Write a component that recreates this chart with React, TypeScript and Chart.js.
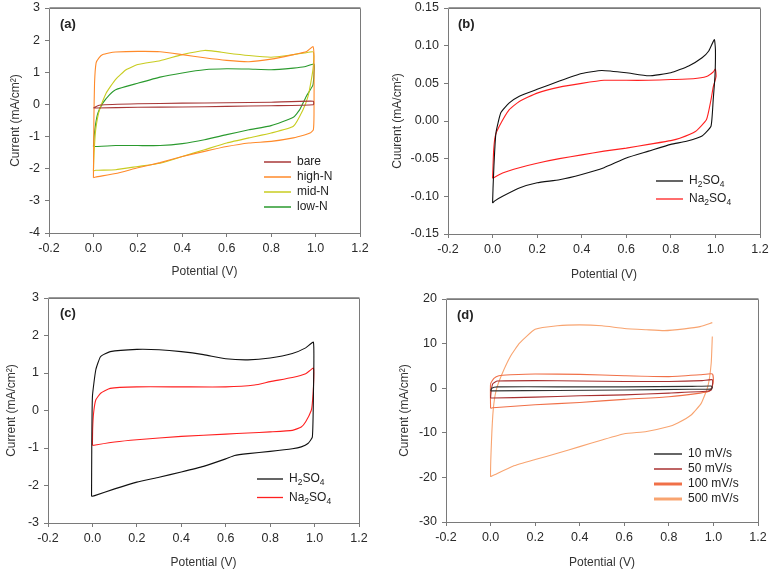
import React, { useEffect, useRef } from 'react';
import { Chart, registerables } from 'chart.js';
Chart.register(...registerables);

// ---------- Panel (a) ----------
const aBareE = [0, 0.03, 0.2, 0.4, 0.6, 0.8, 0.99, 0.99, 0.8, 0.6, 0.4, 0.2, 0.01, 0];
const aBareI = [-0.11, -0.02, 0.02, 0.04, 0.05, 0.07, 0.1, -0.01, -0.04, -0.06, -0.08, -0.09, -0.11, -0.11];
const aHighE = [0, 0.002, 0.005, 0.012, 0.025, 0.042, 0.07, 0.1, 0.2, 0.3, 0.4, 0.5, 0.6, 0.7, 0.8, 0.9, 0.96, 0.988, 0.993, 0.993, 0.99, 0.975, 0.95, 0.9, 0.8, 0.7, 0.6, 0.5, 0.4, 0.3, 0.2, 0.1, 0.01, 0];
const aHighI = [-2.28, -0.5, 0.66, 1.29, 1.45, 1.55, 1.6, 1.63, 1.65, 1.64, 1.55, 1.45, 1.37, 1.33, 1.41, 1.55, 1.65, 1.8, 1.5, -0.3, -0.79, -0.89, -0.95, -1.04, -1.15, -1.2, -1.31, -1.46, -1.62, -1.81, -1.97, -2.15, -2.26, -2.28];
const aMidE = [0, 0.003, 0.01, 0.027, 0.057, 0.1, 0.147, 0.2, 0.3, 0.4, 0.5, 0.55, 0.6, 0.7, 0.8, 0.9, 0.95, 0.99, 0.99, 0.981, 0.966, 0.943, 0.9, 0.8, 0.7, 0.6, 0.5, 0.4, 0.3, 0.2, 0.1, 0.01, 0];
const aMidI = [-2.07, -1.5, -0.8, -0.17, 0.35, 0.78, 1.08, 1.24, 1.36, 1.55, 1.68, 1.65, 1.6, 1.52, 1.47, 1.55, 1.6, 1.63, 1.2, 0.77, 0.25, -0.17, -0.68, -0.89, -1.04, -1.2, -1.41, -1.62, -1.83, -1.93, -2.03, -2.05, -2.07];
const aLowE = [0, 0.003, 0.01, 0.02, 0.042, 0.072, 0.1, 0.2, 0.3, 0.4, 0.5, 0.6, 0.7, 0.8, 0.9, 0.95, 0.993, 0.993, 0.988, 0.958, 0.928, 0.9, 0.8, 0.7, 0.6, 0.5, 0.4, 0.3, 0.2, 0.1, 0.01, 0];
const aLowI = [-1.31, -1.0, -0.6, -0.27, 0.04, 0.3, 0.46, 0.66, 0.85, 0.98, 1.08, 1.11, 1.1, 1.08, 1.13, 1.17, 1.26, 0.98, 0.6, 0.25, -0.17, -0.4, -0.66, -0.79, -0.94, -1.1, -1.22, -1.28, -1.28, -1.28, -1.31, -1.31];

// ---------- Panel (b) ----------
const bH2E = [0, 0.002, 0.006, 0.015, 0.037, 0.075, 0.12, 0.2, 0.3, 0.4, 0.49, 0.6, 0.7, 0.8, 0.88, 0.94, 0.97, 0.995, 1.0, 0.998, 0.99, 0.98, 0.94, 0.87, 0.8, 0.7, 0.6, 0.5, 0.4, 0.3, 0.2, 0.12, 0.045, 0.01, 0];
const bH2I = [-0.109, -0.09, -0.06, -0.016, 0.011, 0.024, 0.033, 0.042, 0.053, 0.063, 0.067, 0.064, 0.06, 0.064, 0.073, 0.084, 0.093, 0.108, 0.095, 0.06, 0.028, -0.007, -0.02, -0.027, -0.031, -0.04, -0.049, -0.062, -0.071, -0.078, -0.082, -0.089, -0.1, -0.106, -0.109];
const bNaE = [0, 0.002, 0.005, 0.012, 0.03, 0.075, 0.12, 0.2, 0.3, 0.4, 0.5, 0.6, 0.7, 0.8, 0.9, 0.96, 0.99, 1.0, 1.003, 0.99, 0.98, 0.96, 0.91, 0.84, 0.8, 0.7, 0.6, 0.5, 0.4, 0.3, 0.2, 0.12, 0.045, 0];
const bNaI = [-0.076, -0.06, -0.038, -0.02, -0.007, 0.015, 0.026, 0.037, 0.045, 0.05, 0.054, 0.054, 0.054, 0.055, 0.056, 0.059, 0.065, 0.069, 0.059, 0.045, 0.028, 0.002, -0.014, -0.023, -0.026, -0.031, -0.036, -0.04, -0.045, -0.05, -0.056, -0.062, -0.069, -0.076];

// ---------- Panel (c) ----------
const cH2E = [-0.004, -0.003, 0.0, 0.015, 0.037, 0.08, 0.2, 0.3, 0.4, 0.5, 0.6, 0.7, 0.8, 0.9, 0.96, 0.995, 0.995, 0.99, 0.97, 0.94, 0.9, 0.8, 0.7, 0.64, 0.6, 0.5, 0.4, 0.3, 0.2, 0.1, 0.01, -0.004];
const cH2I = [-2.29, -1.0, 0.37, 1.08, 1.44, 1.57, 1.63, 1.62, 1.57, 1.49, 1.38, 1.35, 1.4, 1.52, 1.67, 1.82, 0.5, -0.71, -0.88, -0.97, -1.02, -1.09, -1.15, -1.2, -1.29, -1.49, -1.64, -1.78, -1.91, -2.09, -2.27, -2.29];
const cNaE = [0, 0.001, 0.005, 0.015, 0.037, 0.08, 0.2, 0.4, 0.6, 0.73, 0.8, 0.9, 0.96, 0.995, 0.995, 0.99, 0.985, 0.96, 0.94, 0.9, 0.8, 0.7, 0.6, 0.4, 0.2, 0.1, 0];
const cNaI = [-0.93, -0.5, -0.08, 0.28, 0.46, 0.59, 0.63, 0.63, 0.63, 0.68, 0.77, 0.88, 0.98, 1.13, 0.63, 0.2, 0.0, -0.3, -0.44, -0.53, -0.57, -0.6, -0.63, -0.69, -0.78, -0.84, -0.93];

// ---------- Panel (d) ----------
const d10E = [0, 0.005, 0.03, 0.3, 0.6, 0.9, 0.99, 0.995, 0.99, 0.9, 0.6, 0.3, 0.01, 0];
const d10I = [-0.6, 0.0, 0.3, 0.3, 0.3, 0.4, 0.5, 0.2, -0.2, -0.25, -0.4, -0.5, -0.6, -0.6];
const d50E = [0, 0.003, 0.01, 0.03, 0.2, 0.4, 0.6, 0.8, 0.95, 0.995, 0.995, 0.99, 0.97, 0.8, 0.6, 0.4, 0.2, 0.01, 0];
const d50I = [-2.2, -0.5, 1.0, 1.6, 1.7, 1.6, 1.5, 1.5, 1.7, 1.9, 0.4, -0.4, -0.7, -1.1, -1.5, -1.7, -2.0, -2.2, -2.2];
const d100E = [0, 0.0, 0.015, 0.037, 0.09, 0.2, 0.4, 0.6, 0.8, 0.94, 0.995, 1.0, 0.995, 0.98, 0.94, 0.8, 0.6, 0.4, 0.2, 0.01, 0];
const d100I = [-4.5, 1.0, 2.2, 2.8, 3.0, 3.2, 3.1, 2.8, 2.6, 3.0, 3.2, 1.9, 0.4, -0.7, -1.1, -1.9, -2.5, -3.2, -3.7, -4.4, -4.5];
const d500E = [0.995, 0.99, 0.975, 0.945, 0.9, 0.84, 0.8, 0.7, 0.6, 0.5, 0.4, 0.3, 0.2, 0.1, 0.01, 0, 0.004, 0.012, 0.025, 0.05, 0.09, 0.13, 0.2, 0.3, 0.4, 0.5, 0.6, 0.7, 0.78, 0.87, 0.94, 0.995];
const d500I = [11.6, 5.6, 0.4, -3.4, -6.0, -7.8, -8.6, -9.7, -10.2, -11.6, -13.1, -14.6, -16.0, -17.5, -19.6, -19.8, -12.0, -4.8, -0.5, 3.0, 7.2, 10.1, 13.2, 14.0, 14.2, 14.0, 13.4, 13.1, 12.9, 13.3, 13.8, 14.7];

// ---------- Labels ----------
const X_TITLE = 'Potential (V)';
const Y_TITLE_A = 'Current (mA/cm²)';
const Y_TITLE_B = 'Cuurent (mA/cm²)';
const LABELS_A = ['bare', 'high-N', 'mid-N', 'low-N'];
const LABELS_BC = ['H₂SO₄', 'Na₂SO₄'];
const LABELS_D = ['10 mV/s', '50 mV/s', '100 mV/s', '500 mV/s'];

const FONT = '"Liberation Sans", Arial, Helvetica, sans-serif';
const SUB: Record<string, string> = { '₀': '0', '₁': '1', '₂': '2', '₃': '3', '₄': '4', '₅': '5', '₆': '6', '₇': '7', '₈': '8', '₉': '9' };

function drawRich(ctx: CanvasRenderingContext2D, text: string, x: number, y: number) {
  let cx = x;
  let run = '';
  const flush = () => {
    if (!run) return;
    ctx.font = `12px ${FONT}`;
    ctx.fillText(run, cx, y);
    cx += ctx.measureText(run).width;
    run = '';
  };
  for (const ch of text) {
    if (SUB[ch]) {
      flush();
      ctx.font = `8.5px ${FONT}`;
      ctx.fillText(SUB[ch], cx, y + 4);
      cx += ctx.measureText(SUB[ch]).width;
    } else run += ch;
  }
  flush();
}

const framePlugin = {
  id: 'frame',
  afterDatasetsDraw(chart: any) {
    const { ctx, chartArea } = chart;
    const l = Math.round(chartArea.left) + 0.5;
    const t = Math.round(chartArea.top) + 0.5;
    const r = Math.round(chartArea.right) + 0.5;
    const b = Math.round(chartArea.bottom) + 0.5;
    ctx.save();
    ctx.strokeStyle = '#7a7a7a';
    ctx.lineWidth = 1;
    ctx.beginPath();
    ctx.rect(l, t, r - l, b - t);
    ctx.stroke();
    ctx.strokeStyle = '#9a9a9a';
    ctx.beginPath();
    ctx.moveTo(l, t - 1);
    ctx.lineTo(r, t - 1);
    ctx.stroke();
    ctx.restore();
  },
};

const annotPlugin = {
  id: 'annot',
  afterDraw(chart: any, _args: any, opts: any) {
    const ctx: CanvasRenderingContext2D = chart.ctx;
    ctx.save();
    ctx.fillStyle = '#222';
    ctx.textBaseline = 'middle';
    ctx.textAlign = 'left';
    ctx.font = `bold 13px ${FONT}`;
    ctx.fillText(opts.tag, opts.tagX, opts.tagY);
    chart.data.datasets.forEach((ds: any, i: number) => {
      const y = opts.legY + i * opts.legGap;
      ctx.strokeStyle = ds.borderColor;
      ctx.lineWidth = opts.legWidths[i];
      ctx.beginPath();
      ctx.moveTo(opts.legX, y);
      ctx.lineTo(opts.legX + opts.legLen, y);
      ctx.stroke();
      ctx.fillStyle = '#222';
      drawRich(ctx, ds.label, opts.legX + opts.legLen + 6, y);
    });
    ctx.restore();
  },
};

type Series = { label: string; E: number[]; I: number[]; color: string };
type PanelCfg = {
  left: number; top: number; width: number; height: number;
  tag: string; tagX: number; tagY: number;
  yMin: number; yMax: number; yStep: number; yDec: number; yTitle: string;
  yWidth: number; xHeight: number;
  pad: { left: number; top: number; right: number; bottom: number };
  yTitlePad: number; xTitlePad: number;
  legX: number; legY: number; legGap: number; legLen: number; legWidths: number[];
  series: Series[];
};

const TICK_COLOR = '#2a2a2a';
const AXIS_COLOR = '#7a7a7a';

function Panel({ cfg }: { cfg: PanelCfg }) {
  const ref = useRef<HTMLCanvasElement | null>(null);
  useEffect(() => {
    if (!ref.current) return;
    const chart = new Chart(ref.current, {
      type: 'scatter',
      data: {
        datasets: cfg.series.map((s) => ({
          label: s.label,
          data: s.E.map((e, i) => ({ x: e, y: s.I[i] })),
          showLine: true,
          borderColor: s.color,
          backgroundColor: s.color,
          borderWidth: 1.1,
          pointRadius: 0,
          fill: false,
          tension: 0.15,
        })),
      },
      options: {
        animation: false,
        responsive: false,
        events: [],
        layout: { padding: cfg.pad },
        plugins: {
          legend: { display: false },
          tooltip: { enabled: false },
          annot: {
            tag: cfg.tag, tagX: cfg.tagX, tagY: cfg.tagY,
            legX: cfg.legX, legY: cfg.legY, legGap: cfg.legGap, legLen: cfg.legLen, legWidths: cfg.legWidths,
          },
        } as any,
        scales: {
          x: {
            type: 'linear',
            min: -0.2,
            max: 1.2,
            ticks: {
              stepSize: 0.2,
              color: TICK_COLOR,
              font: { family: FONT, size: 12.5 },
              padding: 4,
              maxRotation: 0,
              callback: (v: any) => (Math.abs(v) < 1e-9 ? 0 : Number(v)).toFixed(1),
            },
            grid: { display: true, drawOnChartArea: false, drawTicks: true, tickLength: 4, color: AXIS_COLOR },
            border: { display: false },
            title: {
              display: true,
              text: X_TITLE,
              color: '#333',
              font: { family: FONT, size: 12 },
              padding: { top: 0, bottom: cfg.xTitlePad },
            },
            afterFit: (s: any) => {
              s.height = cfg.xHeight;
              s.paddingLeft = 0; s.paddingRight = 0; s.paddingTop = 0; s.paddingBottom = 0;
            },
          },
          y: {
            type: 'linear',
            min: cfg.yMin,
            max: cfg.yMax,
            ticks: {
              stepSize: cfg.yStep,
              color: TICK_COLOR,
              font: { family: FONT, size: 12.5 },
              padding: 5,
              callback: (v: any) => (Math.abs(v) < 1e-9 ? 0 : Number(v)).toFixed(cfg.yDec),
            },
            grid: { display: true, drawOnChartArea: false, drawTicks: true, tickLength: 4, color: AXIS_COLOR },
            border: { display: false },
            title: {
              display: true,
              text: cfg.yTitle,
              color: '#333',
              font: { family: FONT, size: 12 },
              padding: { top: cfg.yTitlePad, bottom: 0 },
            },
            afterFit: (s: any) => {
              s.width = cfg.yWidth;
              s.paddingLeft = 0; s.paddingRight = 0; s.paddingTop = 0; s.paddingBottom = 0;
            },
          },
        },
      } as any,
      plugins: [framePlugin, annotPlugin],
    });
    return () => chart.destroy();
  }, [cfg]);
  return (
    <canvas
      ref={ref}
      width={cfg.width}
      height={cfg.height}
      style={{ position: 'absolute', left: cfg.left, top: cfg.top, width: cfg.width, height: cfg.height }}
    />
  );
}

const panelA: PanelCfg = {
  left: 0, top: 0, width: 385, height: 285,
  tag: '(a)', tagX: 60, tagY: 24,
  yMin: -4, yMax: 3, yStep: 1, yDec: 0, yTitle: Y_TITLE_A,
  yWidth: 49, xHeight: 52, pad: { left: 0, top: 8, right: 25, bottom: 0 },
  yTitlePad: 8, xTitlePad: 6,
  legX: 264, legY: 162, legGap: 15, legLen: 27, legWidths: [1.5, 1.5, 1.5, 1.5],
  series: [
    { label: LABELS_A[0], E: aBareE, I: aBareI, color: '#a83838' },
    { label: LABELS_A[1], E: aHighE, I: aHighI, color: '#ff8a2a' },
    { label: LABELS_A[2], E: aMidE, I: aMidI, color: '#c8cc20' },
    { label: LABELS_A[3], E: aLowE, I: aLowI, color: '#2a9a2e' },
  ],
};

const panelB: PanelCfg = {
  left: 385, top: 0, width: 386, height: 285,
  tag: '(b)', tagX: 73, tagY: 24,
  yMin: -0.15, yMax: 0.15, yStep: 0.05, yDec: 2, yTitle: Y_TITLE_B,
  yWidth: 63, xHeight: 51, pad: { left: 0, top: 8, right: 11, bottom: 0 },
  yTitlePad: 5, xTitlePad: 3,
  legX: 271, legY: 181, legGap: 18, legLen: 27, legWidths: [1.3, 1.3],
  series: [
    { label: LABELS_BC[0], E: bH2E, I: bH2I, color: '#111111' },
    { label: LABELS_BC[1], E: bNaE, I: bNaI, color: '#ff2020' },
  ],
};

const panelC: PanelCfg = {
  left: 0, top: 286, width: 385, height: 286,
  tag: '(c)', tagX: 60, tagY: 27,
  yMin: -3, yMax: 3, yStep: 1, yDec: 0, yTitle: Y_TITLE_A,
  yWidth: 48, xHeight: 49, pad: { left: 0, top: 12, right: 26, bottom: 0 },
  yTitlePad: 4.5, xTitlePad: 2,
  legX: 257, legY: 193, legGap: 18.5, legLen: 26, legWidths: [1.3, 1.3],
  series: [
    { label: LABELS_BC[0], E: cH2E, I: cH2I, color: '#111111' },
    { label: LABELS_BC[1], E: cNaE, I: cNaI, color: '#ff2020' },
  ],
};

const panelD: PanelCfg = {
  left: 385, top: 286, width: 386, height: 286,
  tag: '(d)', tagX: 72, tagY: 29,
  yMin: -30, yMax: 20, yStep: 10, yDec: 0, yTitle: Y_TITLE_A,
  yWidth: 61, xHeight: 50, pad: { left: 0, top: 13, right: 13, bottom: 0 },
  yTitlePad: 12.5, xTitlePad: 2,
  legX: 269, legY: 168, legGap: 15, legLen: 28, legWidths: [1.5, 1.5, 3, 3],
  series: [
    { label: LABELS_D[0], E: d10E, I: d10I, color: '#333333' },
    { label: LABELS_D[1], E: d50E, I: d50I, color: '#a83030' },
    { label: LABELS_D[2], E: d100E, I: d100I, color: '#f07048' },
    { label: LABELS_D[3], E: d500E, I: d500I, color: '#f8a470' },
  ],
};

export default function App() {
  return (
    <div style={{ position: 'absolute', left: 0, top: 0, width: 771, height: 572, background: '#fff' }}>
      <Panel cfg={panelA} />
      <Panel cfg={panelB} />
      <Panel cfg={panelC} />
      <Panel cfg={panelD} />
    </div>
  );
}
